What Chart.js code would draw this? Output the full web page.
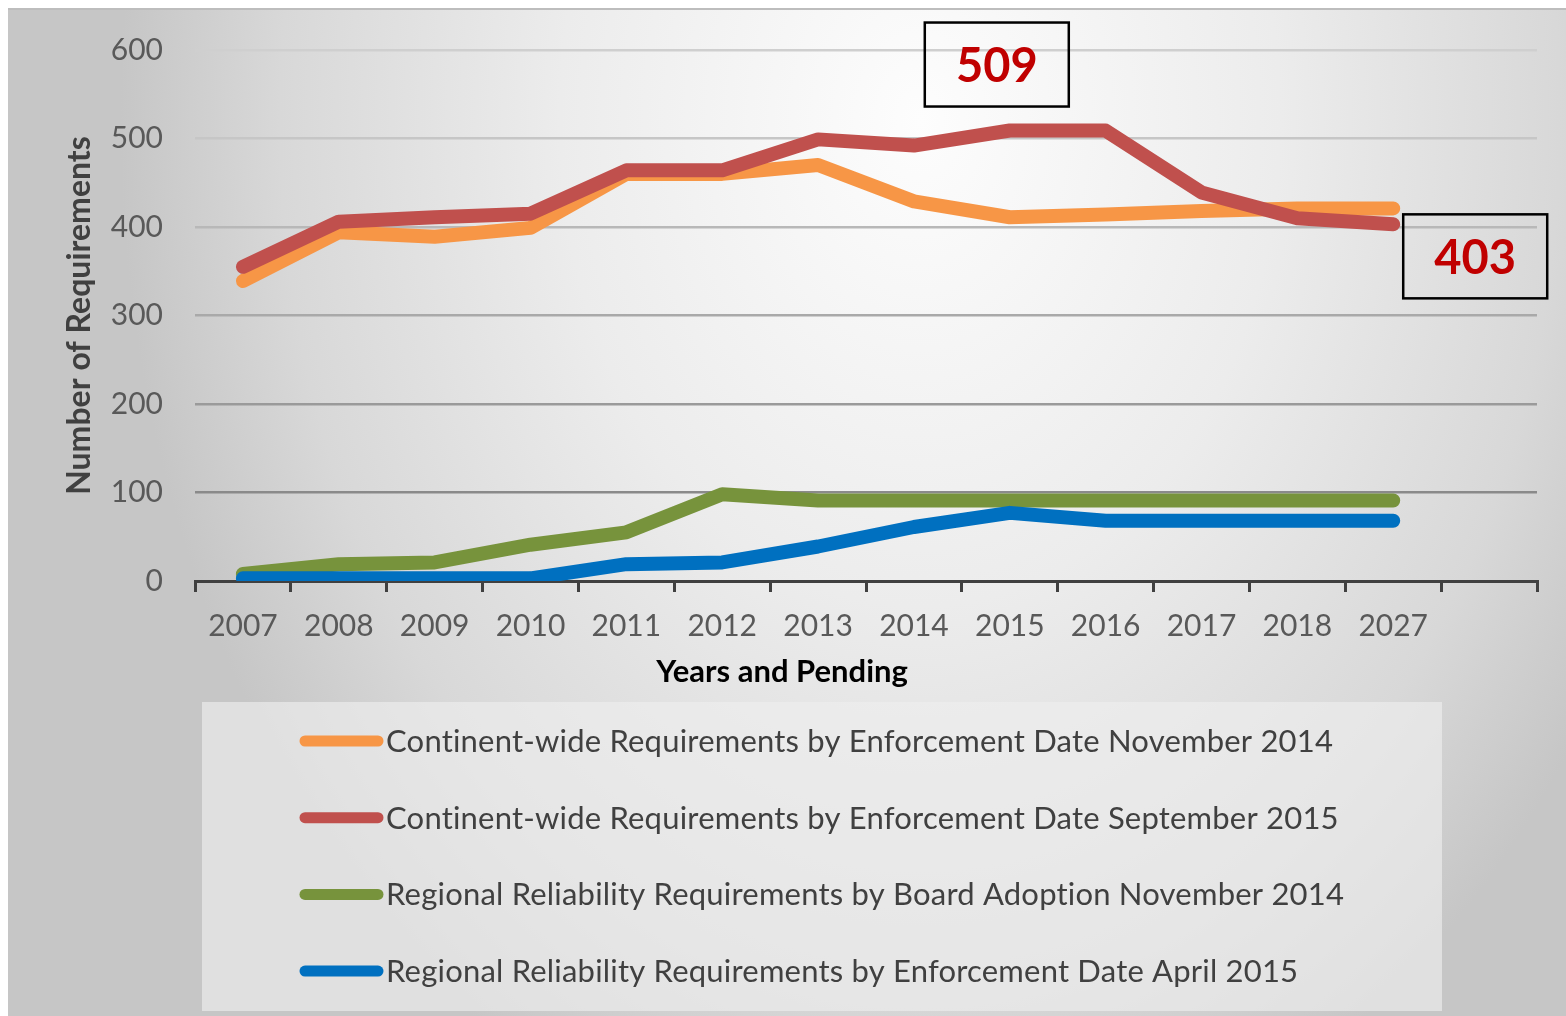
<!DOCTYPE html>
<html>
<head>
<meta charset="utf-8">
<script src="https://cdn.jsdelivr.net/npm/chart.js@4.4.1/dist/chart.umd.min.js"></script>
<style>
  html, body { margin: 0; padding: 0; background: #fff; }
  #wrap { width: 1566px; height: 1016px; }
</style>
</head>
<body>
<div id="wrap"><canvas id="reqChart" width="1566" height="1016"></canvas></div>
<script>
// Category labels (last slot is an empty category, as in the original axis)
const years = ['2007', '2008', '2009', '2010', '2011', '2012', '2013', '2014', '2015', '2016', '2017', '2018', '2027', ''];

// Series values
const continentNov2014 = [339, 394, 389, 399, 460, 460, 470, 429, 411, 414, 418, 421, 421];
const continentSep2015 = [355, 406, 411, 415, 464, 464, 499, 492, 509, 509, 439, 410, 403];
const regionalBoardNov2014 = [8, 19, 21, 41, 55, 98, 91, 91, 91, 91, 91, 91, 91];
const regionalEnfApr2015 = [3, 3, 3, 3, 19, 21, 39, 61, 77, 68, 68, 68, 68];

const seriesNames = [
    'Continent-wide Requirements by Enforcement Date November 2014',
    'Continent-wide Requirements by Enforcement Date September 2015',
    'Regional Reliability Requirements by Board Adoption November 2014',
    'Regional Reliability Requirements by Enforcement Date April 2015'
];
const seriesColors = ['#F79646', '#C0504D', '#77933C', '#0070C0'];

// Callout boxes: value shown and the category they sit next to
const calloutValues = [509, 403];
const calloutYears = ['2015', '2027'];

const FONT = 'Lato, "Open Sans", sans-serif';

// gray gradient behind the chart, white margin round it
const backdropPlugin = {
    id: 'backdrop',
    beforeDraw(chart) {
        const ctx = chart.ctx;
        const w = chart.width, h = chart.height;
        ctx.save();
        ctx.fillStyle = '#ffffff';
        ctx.fillRect(0, 0, w, h);
        ctx.save();
        ctx.beginPath();
        ctx.rect(8, 8, w - 8, h - 8);
        ctx.clip();
        ctx.translate(920, 120);
        ctx.scale(1, 1.35);
        const g = ctx.createRadialGradient(0, 0, 0, 0, 0, 800);
        g.addColorStop(0, '#fdfdfd');
        g.addColorStop(0.45, '#ececec');
        g.addColorStop(0.8, '#d8d8d8');
        g.addColorStop(1, '#c6c6c6');
        ctx.fillStyle = g;
        ctx.fillRect(-1000, -200, 2700, 1000);
        ctx.restore();
        ctx.strokeStyle = '#bdbdbd';
        ctx.lineWidth = 2;
        ctx.beginPath();
        ctx.moveTo(8, 9);
        ctx.lineTo(w, 9);
        ctx.stroke();
        ctx.restore();
    }
};

// x title, callouts and the boxed legend
const extrasPlugin = {
    id: 'extras',
    afterDraw(chart) {
        const ctx = chart.ctx;
        const xs = chart.scales.x, ys = chart.scales.y;
        ctx.save();

        ctx.font = 'bold 31px ' + FONT;
        ctx.fillStyle = '#000000';
        ctx.textAlign = 'center';
        ctx.textBaseline = 'middle';
        ctx.fillText('Years and Pending', 782, 672);

        // callouts
        const offsets = [[-13, -66], [82, 32]];
        calloutValues.forEach((v, i) => {
            const cx = xs.getPixelForValue(years.indexOf(calloutYears[i])) + offsets[i][0];
            const cy = ys.getPixelForValue(v) + offsets[i][1];
            ctx.strokeStyle = '#000000';
            ctx.lineWidth = 2.5;
            ctx.strokeRect(cx - 72, cy - 42, 144, 84);
            ctx.fillStyle = '#C00000';
            ctx.font = 'bold 47px ' + FONT;
            ctx.fillText(String(v), cx, cy + 2);
        });

        // legend
        ctx.fillStyle = 'rgba(238,238,238,0.65)';
        ctx.fillRect(202, 702, 1240, 309);
        ctx.textAlign = 'left';
        ctx.font = '31px ' + FONT;
        if ('letterSpacing' in ctx) ctx.letterSpacing = '0.2px';
        chart.data.datasets.forEach((ds, i) => {
            const y = 741 + i * 76.7;
            ctx.strokeStyle = ds.borderColor;
            ctx.lineWidth = 11;
            ctx.lineCap = 'round';
            ctx.beginPath();
            ctx.moveTo(305, y);
            ctx.lineTo(378, y);
            ctx.stroke();
            ctx.fillStyle = '#404040';
            ctx.fillText(ds.label, 386, y + 1);
        });
        ctx.restore();
    }
};

const gridShade = (v) => {
    const shades = { 0: '#404040', 100: '#8a8a8a', 200: '#9a9a9a', 300: '#a9a9a9', 400: '#b8b8b8', 500: '#c6c6c6', 600: '#cfcfcf' };
    return shades[v] || '#aaaaaa';
};

const makeDataset = (i, values, order) => ({
    label: seriesNames[i],
    data: values,
    borderColor: seriesColors[i],
    backgroundColor: seriesColors[i],
    borderWidth: 14,
    borderCapStyle: 'round',
    borderJoinStyle: 'round',
    pointRadius: 0,
    pointHoverRadius: 0,
    tension: 0,
    fill: false,
    order: order
});

const ctx = document.getElementById('reqChart').getContext('2d');
const reqChart = new Chart(ctx, {
    type: 'line',
    data: {
        labels: years,
        datasets: [
            makeDataset(0, continentNov2014, 3),
            makeDataset(1, continentSep2015, 2),
            makeDataset(2, regionalBoardNov2014, 1),
            makeDataset(3, regionalEnfApr2015, 0)
        ]
    },
    options: {
        responsive: false,
        animation: false,
        devicePixelRatio: 1,
        layout: { padding: { left: 8, right: 29, top: 50, bottom: 0 } },
        plugins: {
            legend: { display: false },
            tooltip: { enabled: false }
        },
        scales: {
            x: {
                offset: true,
                grid: {
                    display: true,
                    offset: true,
                    drawOnChartArea: false,
                    drawTicks: true,
                    tickLength: 11,
                    color: '#404040',
                    lineWidth: 3
                },
                border: { display: true, color: '#404040', width: 3 },
                ticks: {
                    color: '#595959',
                    font: { family: FONT, size: 30 },
                    padding: 16,
                    maxRotation: 0,
                    autoSkip: false
                },
                afterFit: (s) => { s.height = 435; }
            },
            y: {
                min: 0,
                max: 600,
                ticks: {
                    stepSize: 100,
                    color: '#595959',
                    font: { family: FONT, size: 30 },
                    padding: 32
                },
                grid: {
                    drawTicks: false,
                    lineWidth: 2.5,
                    color: (c) => gridShade(c.tick ? c.tick.value : -1)
                },
                border: { display: false },
                title: {
                    display: true,
                    text: 'Number of Requirements',
                    color: '#404040',
                    font: { family: FONT, size: 32, weight: 'bold' },
                    padding: { top: 52, bottom: 0 }
                },
                afterFit: (s) => { s.width = 187; }
            }
        }
    },
    plugins: [backdropPlugin, extrasPlugin]
});
</script>
</body>
</html>
